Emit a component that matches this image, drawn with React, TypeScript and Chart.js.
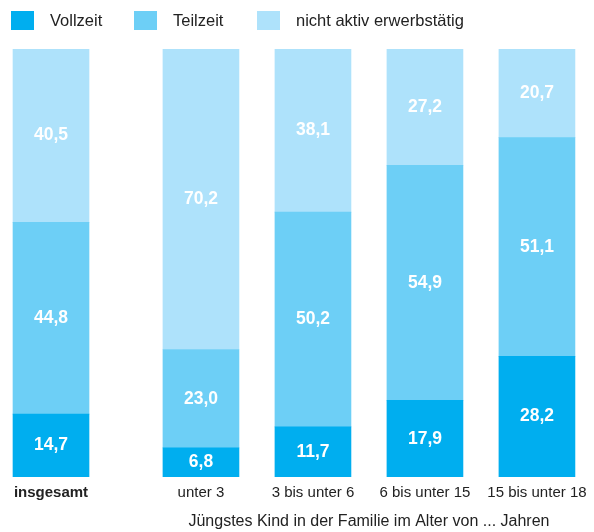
import React, { useEffect, useRef } from "react";
import { Chart, registerables } from "chart.js";

Chart.register(...registerables);

const categories = ["insgesamt", "unter 3", "3 bis unter 6", "6 bis unter 15", "15 bis unter 18"];
const seriesNames = ["Vollzeit", "Teilzeit", "nicht aktiv erwerbstätig"];
const vollzeit = [14.7, 6.8, 11.7, 17.9, 28.2];
const teilzeit = [44.8, 23.0, 50.2, 54.9, 51.1];
const nichtAktiv = [40.5, 70.2, 38.1, 27.2, 20.7];
const axisTitle = "Jüngstes Kind in der Familie im Alter von ... Jahren";

const COLORS = ["#00AEEF", "#6DCFF6", "#AEE2FB"];
const FONT = "'Liberation Sans', Arial, Helvetica, sans-serif";
const GAP = 0.339; // extra space after the first bar (in slot units)

const xPos = (i: number) => (i === 0 ? 0 : i + GAP);
const fmt = (v: number) => v.toFixed(1).replace(".", ",");

const legendPlugin = {
  id: "customLegend",
  afterDraw(chart: any) {
    const ctx = chart.ctx;
    ctx.save();
    seriesNames.forEach((name, i) => {
      const bx = 3 + i * 123;
      ctx.fillStyle = COLORS[i];
      ctx.fillRect(bx, 3, 23, 19);
      ctx.fillStyle = "#222222";
      ctx.font = `16.5px ${FONT}`;
      ctx.textBaseline = "middle";
      ctx.textAlign = "left";
      ctx.fillText(name, bx + 23 + 16, 13);
    });
    ctx.restore();
  },
};

const labelsPlugin = {
  id: "valueLabels",
  afterDatasetsDraw(chart: any) {
    const ctx = chart.ctx;
    ctx.save();
    ctx.fillStyle = "#ffffff";
    ctx.font = `bold 17.5px ${FONT}`;
    ctx.textAlign = "center";
    ctx.textBaseline = "middle";
    chart.data.datasets.forEach((ds: any, di: number) => {
      const meta = chart.getDatasetMeta(di);
      meta.data.forEach((bar: any, i: number) => {
        const v = ds.data[i].y;
        const cy = (bar.y + bar.base) / 2;
        ctx.fillText(fmt(v), bar.x, cy);
      });
    });
    ctx.restore();
  },
};

const titlePlugin = {
  id: "axisTitleLabel",
  afterDraw(chart: any) {
    const ctx = chart.ctx;
    const xs = chart.scales.x;
    const cx = (xs.getPixelForValue(xPos(1)) + xs.getPixelForValue(xPos(categories.length - 1))) / 2;
    ctx.save();
    ctx.fillStyle = "#222222";
    ctx.font = `16px ${FONT}`;
    ctx.textAlign = "center";
    ctx.textBaseline = "middle";
    ctx.fillText(axisTitle, cx, 514);
    ctx.restore();
  },
};

export default function App() {
  const ref = useRef<HTMLCanvasElement>(null);
  useEffect(() => {
    if (!ref.current) return;
    const series = [vollzeit, teilzeit, nichtAktiv];
    const chart = new Chart(ref.current, {
      type: "bar",
      data: {
        datasets: series.map((vals, si) => ({
          label: seriesNames[si],
          data: vals.map((v, i) => ({ x: xPos(i), y: v })),
          backgroundColor: COLORS[si],
          borderWidth: 0,
          barThickness: 76,
        })),
      },
      options: {
        animation: false,
        responsive: true,
        maintainAspectRatio: false,
        layout: { padding: { top: 41, bottom: 23, left: 0, right: 0 } },
        plugins: {
          legend: { display: false },
          tooltip: { enabled: false },
        },
        scales: {
          x: {
            type: "linear",
            stacked: true,
            offset: false,
            bounds: "ticks",
            min: -0.384,
            max: 4.777,
            grid: { display: false, drawTicks: false, offset: false },
            border: { display: false },
            afterBuildTicks: (scale: any) => {
              scale.ticks = categories.map((_, i) => ({ value: xPos(i) }));
            },
            afterFit: (scale: any) => {
              scale.paddingLeft = 0;
              scale.paddingRight = 0;
            },
            ticks: {
              autoSkip: false,
              maxRotation: 0,
              padding: 7,
              color: "#222222",
              font: (c: any) => ({
                family: FONT,
                size: 15,
                weight: c.index === 0 ? "bold" : "normal",
              }),
              callback: (_v: any, i: number) => categories[i],
            },
          },
          y: {
            stacked: true,
            display: false,
            min: 0,
            max: 100,
          },
        },
      },
      plugins: [legendPlugin, labelsPlugin, titlePlugin],
    } as any);
    return () => chart.destroy();
  }, []);
  return (
    <div style={{ width: 578, height: 524, position: "relative" }}>
      <canvas ref={ref} />
    </div>
  );
}
